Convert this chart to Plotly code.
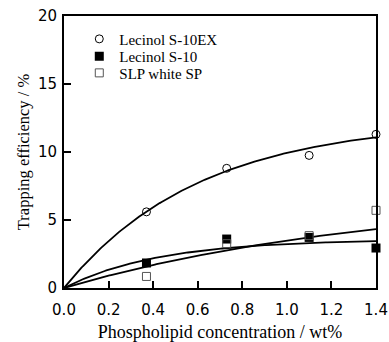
import numpy as np
import plotly.graph_objects as go

# ---- data ----
conc = [0.37, 0.73, 1.1, 1.4]
s10ex = [5.6, 8.8, 9.75, 11.3]
s10 = [1.84, 3.6, 3.72, 2.94]
slp = [0.85, 3.26, 3.85, 5.71]

# saturation-curve parameters  y = a * (1 - exp(-b x)) read from the drawn fits
fit_s10ex = (12.3, 1.65)
fit_s10 = (3.58, 2.35)
fit_slp = (6.94, 0.70)

names = ["Lecinol S-10EX", "Lecinol S-10", "SLP white SP"]
x_ticks = [0.0, 0.2, 0.4, 0.6, 0.8, 1.0, 1.2, 1.4]
y_ticks = [0, 5, 10, 15, 20]

xc = np.linspace(0, 1.4, 200)

def curve(p):
    a, b = p
    return a * (1 - np.exp(-b * xc))

fig = go.Figure()
for p in (fit_s10ex, fit_s10, fit_slp):
    fig.add_trace(go.Scatter(x=xc, y=curve(p), mode="lines",
                             line=dict(color="black", width=1.8),
                             showlegend=False, hoverinfo="skip", cliponaxis=False))

serif = "Liberation Serif, Times New Roman, serif"
styles = [
    dict(symbol="circle-open", size=8, color="black", line=dict(width=1, color="black")),
    dict(symbol="square", size=9, color="black", line=dict(width=0)),
    dict(symbol="square-open", size=8, color="#555555", line=dict(width=1, color="#555555")),
]
legends = ["legend", "legend2", "legend3"]
for ys, nm, st, lg in zip((s10ex, s10, slp), names, styles, legends):
    fig.add_trace(go.Scatter(x=conc, y=ys, mode="markers", name=nm, marker=st,
                             cliponaxis=False, legend=lg))

leg_common = dict(x=0.049, xanchor="left", yanchor="middle", bgcolor="rgba(0,0,0,0)",
                  font=dict(family=serif, size=15, color="black"))
fig.update_layout(
    width=389, height=342,
    margin=dict(l=64, r=13, t=16, b=54, autoexpand=False),
    paper_bgcolor="white", plot_bgcolor="white",
    legend=dict(y=0.915, **leg_common),
    legend2=dict(y=0.851, **leg_common),
    legend3=dict(y=0.790, **leg_common),
    xaxis=dict(range=[0, 1.4], tickvals=x_ticks, ticktext=[f"{v:.1f}" for v in x_ticks],
               ticks="inside", ticklen=7, tickwidth=2, tickcolor="black",
               showline=True, linewidth=2, linecolor="black", mirror=True,
               showgrid=False, zeroline=False, automargin=False,
               tickfont=dict(family="DejaVu Sans", size=15, color="black"),
               ticklabelstandoff=7,
               title=dict(text="Phospholipid concentration / wt%",
                          font=dict(family=serif, size=18, color="black"), standoff=23)),
    yaxis=dict(range=[0, 20], tickvals=y_ticks,
               ticks="inside", ticklen=7, tickwidth=2, tickcolor="black",
               showline=True, linewidth=2, linecolor="black", mirror=True,
               showgrid=False, zeroline=False, automargin=False,
               tickfont=dict(family="DejaVu Sans", size=15, color="black"),
               ticklabelstandoff=2,
               title=dict(text="Trapping efficiency / %",
                          font=dict(family=serif, size=16.5, color="black"), standoff=4)),
)
fig.write_html("out.html", config={"displayModeBar": False},
               post_script="document.body.style.margin='0';")
